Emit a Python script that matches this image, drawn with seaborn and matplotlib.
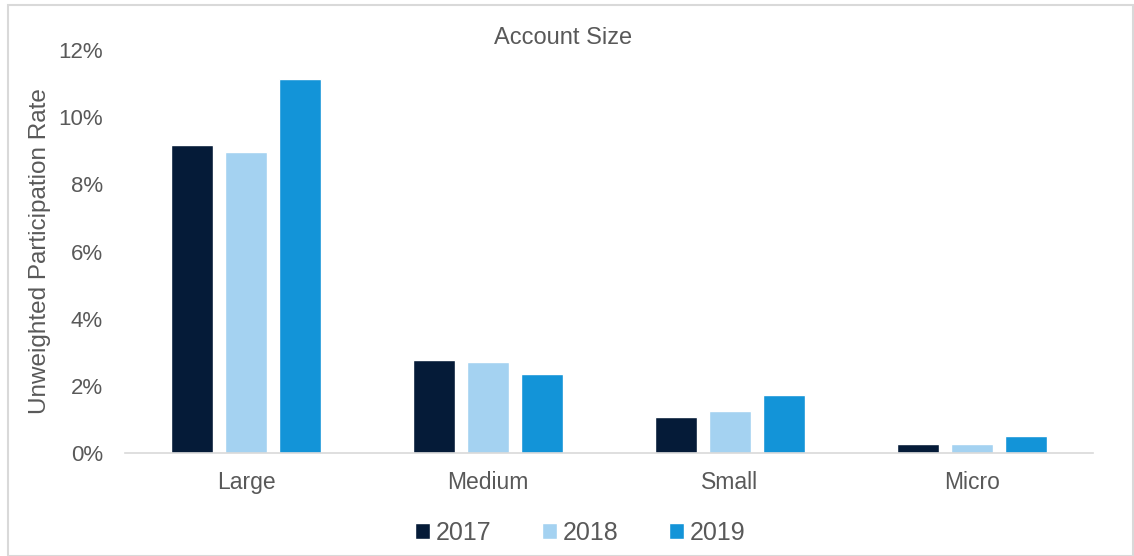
import matplotlib
matplotlib.use("Agg")
import matplotlib.pyplot as plt
import seaborn as sns
import pandas as pd
from matplotlib.patches import Rectangle
from matplotlib.ticker import FuncFormatter

categories = ["Large", "Medium", "Small", "Micro"]
years = ["2017", "2018", "2019"]
rate_2017 = [9.17, 2.77, 1.06, 0.26]
rate_2018 = [8.96, 2.72, 1.26, 0.28]
rate_2019 = [11.14, 2.35, 1.72, 0.50]
colors = ["#051B38", "#A4D2F1", "#1394D8"]

rows = []
for y, vals in zip(years, [rate_2017, rate_2018, rate_2019]):
    for c, v in zip(categories, vals):
        rows.append({"Size": c, "Year": y, "Rate": v})
df = pd.DataFrame(rows)

sns.set_theme(style="white")
plt.rcParams["font.family"] = ["Liberation Sans", "DejaVu Sans"]
text_color = "#595959"

fig = plt.figure(figsize=(11.34, 5.56), dpi=100)
ax = fig.add_axes([125/1134, 1-453/556, (1093-125)/1134, (453-50)/556])

sns.barplot(data=df, x="Size", y="Rate", hue="Year", order=categories,
            hue_order=years, palette=colors, width=0.665, gap=0.215,
            saturation=1, ax=ax, legend=True)

ax.set_ylim(0, 12)
ax.set_xlim(-0.5, 3.5)
ax.set_yticks([0, 2, 4, 6, 8, 10, 12])
ax.yaxis.set_major_formatter(FuncFormatter(lambda v, p: f"{v:.0f}%"))
ax.tick_params(axis="y", length=0, pad=16, labelsize=16, labelcolor=text_color)
ax.tick_params(axis="x", length=0, pad=13, labelsize=16.5, labelcolor=text_color)
ax.set_xlabel("")
ax.set_ylabel("Unweighted Participation Rate", fontsize=17.5, color=text_color, labelpad=5)
for s in ["top", "right", "left"]:
    ax.spines[s].set_visible(False)
ax.spines["bottom"].set_color("#D9D9D9")
ax.spines["bottom"].set_linewidth(1.2)

fig.text(563/1134, 1-38/556, "Account Size", ha="center", va="center",
         fontsize=17, color=text_color)

handles, labels = ax.get_legend_handles_labels()
ax.get_legend().remove()
fig.legend(handles, labels, loc="center", bbox_to_anchor=(580/1134, 1-533/556),
           ncol=3, frameon=False, fontsize=18, labelcolor=text_color,
           handlelength=0.6, handleheight=0.6, handletextpad=0.25, columnspacing=2.0)

fig.patches.append(Rectangle((8/1134, 0), 1-8/1134 - 0.001, 1-5/556,
                             transform=fig.transFigure, fill=False,
                             edgecolor="#D9D9D9", linewidth=1.5))

fig.savefig("out.png", dpi=100)
